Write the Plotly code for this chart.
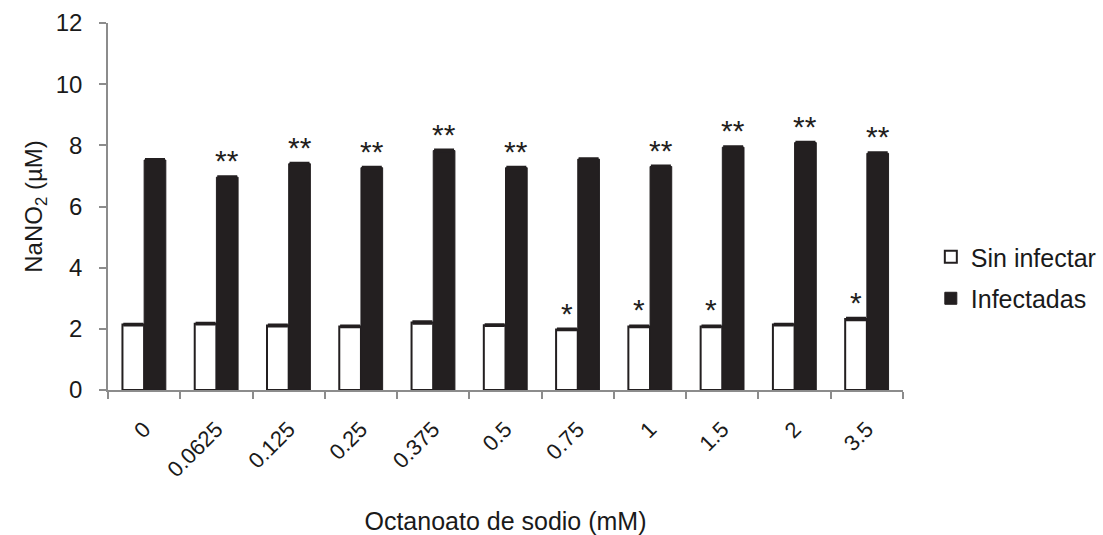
import plotly.graph_objects as go

categories = ["0", "0.0625", "0.125", "0.25", "0.375", "0.5", "0.75", "1", "1.5", "2", "3.5"]
sin_infectar = [2.14, 2.17, 2.11, 2.08, 2.21, 2.12, 1.98, 2.08, 2.08, 2.14, 2.32]
sin_infectar_err = [0.03, 0.03, 0.03, 0.03, 0.04, 0.03, 0.03, 0.03, 0.03, 0.03, 0.04]
infectadas = [7.52, 6.96, 7.40, 7.27, 7.83, 7.27, 7.55, 7.31, 7.94, 8.09, 7.74]
infectadas_err = [0.03, 0.03, 0.03, 0.03, 0.03, 0.03, 0.03, 0.03, 0.03, 0.03, 0.03]
sig_sin = ["", "", "", "", "", "", "*", "*", "*", "", "*"]
sig_inf = ["", "**", "**", "**", "**", "**", "", "**", "**", "**", "**"]

FONT = "Liberation Sans, Arial, sans-serif"
AXIS_GREY = "#8c8c8c"
BLACK = "#231f20"
TEXT = "#1a1a1a"

fig = go.Figure()
fig.add_trace(go.Bar(
    name="Sin infectar", x=categories, y=sin_infectar,
    marker=dict(color="white", line=dict(color=BLACK, width=2)),
    error_y=dict(type="data", array=sin_infectar_err, visible=True,
                 color=BLACK, thickness=2, width=10),
    legendgroup="a",
))
fig.add_trace(go.Bar(
    name="Infectadas", x=categories, y=infectadas,
    marker=dict(color=BLACK, line=dict(color=BLACK, width=1)),
    error_y=dict(type="data", array=infectadas_err, visible=True,
                 color=BLACK, thickness=2, width=10),
    legendgroup="b",
))

annotations = []
for offset, sigs, vals, errs in ((-0.15, sig_sin, sin_infectar, sin_infectar_err),
                                 (0.15, sig_inf, infectadas, infectadas_err)):
    for i, (s, v, e) in enumerate(zip(sigs, vals, errs)):
        if s:
            annotations.append(dict(x=i + offset, y=v + e, xref="x", yref="y",
                                    text=s, showarrow=False,
                                    yanchor="bottom", yshift=-3,
                                    font=dict(family=FONT, size=30, color=BLACK)))

fig.update_layout(
    width=1103, height=535,
    margin=dict(l=108, r=200, t=23, b=145, autoexpand=False),
    paper_bgcolor="white", plot_bgcolor="white",
    barmode="group", bargap=0.4, bargroupgap=0,
    font=dict(family=FONT, size=24, color=TEXT),
    showlegend=True,
    legend=dict(x=1.035, y=0.425, xanchor="left", yanchor="top",
                font=dict(family=FONT, size=25, color=TEXT),
                tracegroupgap=6, traceorder="grouped",
                bgcolor="rgba(0,0,0,0)"),
    annotations=annotations,
)
fig.update_xaxes(
    type="category", automargin=False,
    showline=True, linecolor=AXIS_GREY, linewidth=1.5,
    ticks="outside", tickson="boundaries", ticklen=7, tickcolor=AXIS_GREY, tickwidth=1.5,
    tickangle=-45, ticklabelstandoff=16,
    tickfont=dict(family=FONT, size=22, color=TEXT),
    showgrid=False, zeroline=False,
    title=dict(text="Octanoato de sodio (mM)", font=dict(family=FONT, size=25, color=TEXT),
               standoff=32),
)
fig.update_yaxes(
    range=[0, 12], dtick=2, automargin=False,
    showline=True, linecolor=AXIS_GREY, linewidth=1.5,
    ticks="outside", ticklen=7, tickcolor=AXIS_GREY, tickwidth=1.5,
    ticklabelstandoff=12,
    tickfont=dict(family=FONT, size=24, color=TEXT),
    showgrid=False, zeroline=False,
    title=dict(text="NaNO<sub>2</sub> (µM)", font=dict(family=FONT, size=24, color=TEXT),
               standoff=6),
)

fig.write_html("out.html")
